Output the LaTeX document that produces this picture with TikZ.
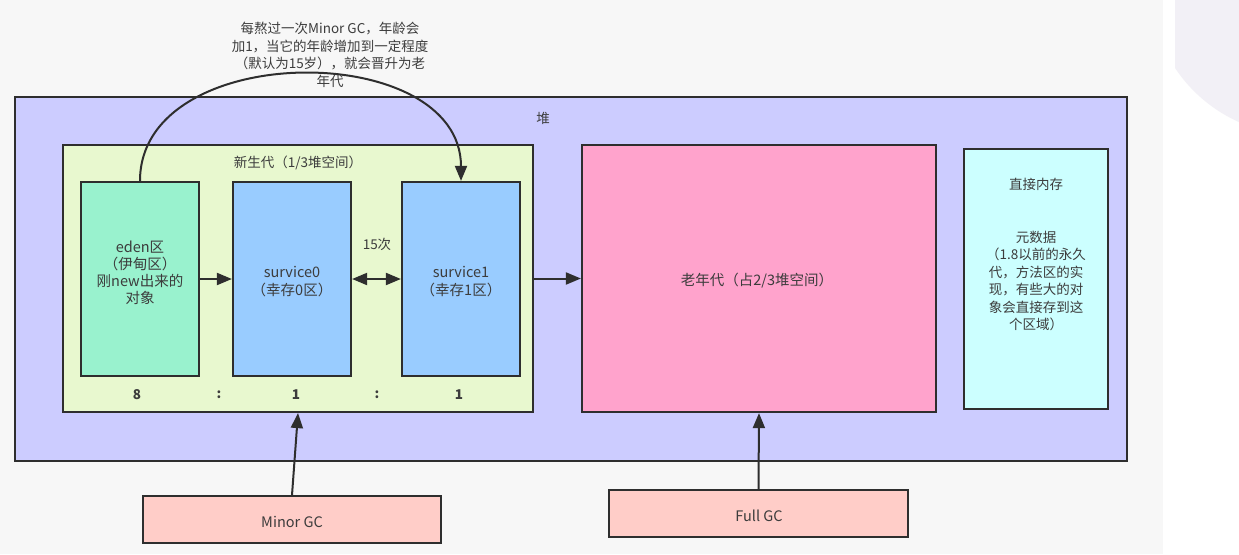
\documentclass[tikz,border=0pt]{standalone}
\usepackage{fontspec}
\setmainfont{Noto Sans CJK SC}
\usetikzlibrary{arrows.meta}
\definecolor{bgc}{HTML}{F7F7F7}
\definecolor{heapc}{HTML}{CCCCFF}
\definecolor{newc}{HTML}{E8F8CF}
\definecolor{edenc}{HTML}{99F2CE}
\definecolor{survc}{HTML}{99CCFF}
\definecolor{oldc}{HTML}{FFA3CC}
\definecolor{dirc}{HTML}{CCFFFF}
\definecolor{gcc}{HTML}{FFCDC8}
\definecolor{txtc}{HTML}{3C3C3C}
\definecolor{linec}{HTML}{2E2E2E}
\definecolor{circc}{HTML}{F2F0F6}
\tikzset{
  box/.style={draw=linec, line width=2.2pt, inner sep=0pt, text=txtc, align=center},
  lbl/.style={text=txtc, inner sep=0pt, align=center, font=\fontsize{13.5}{17.5}\selectfont},
  arr/.style={draw=linec, line width=2pt, -{Triangle[length=15pt,width=12pt]}},
  darr/.style={draw=linec, line width=2pt, {Triangle[length=15pt,width=12pt]}-{Triangle[length=15pt,width=12pt]}},
}
\begin{document}
\begin{tikzpicture}[x=1pt,y=-1pt]
\useasboundingbox (0,0) rectangle (1239,554);
\fill[bgc] (0,0) rectangle (1239,554);
\fill[white] (1163,0) rectangle (1239,554);
\begin{scope}
\clip (1175,0) rectangle (1239,554);
\fill[circc] (1300,-15) circle (150);
\end{scope}

\node[box, fill=heapc, minimum width=1112pt, minimum height=364pt, line width=1.8pt] (heap) at (571,279) {};
\node[lbl] (heaplbl) at (543,118) {堆};

\node[box, fill=newc, minimum width=470pt, minimum height=267pt] (newgen) at (298,278.5) {};
\node[lbl] (newlbl) at (298,163) {新生代（1/3堆空间）};

\node[box, fill=edenc, minimum width=118pt, minimum height=194pt] (eden) at (140,279) {};
\node[lbl, font=\fontsize{14.5}{17}\selectfont] (edenlbl) at (140,273) {eden区\\（伊甸区）\\刚new出来的\\对象};

\node[box, fill=survc, minimum width=118pt, minimum height=194pt] (s0) at (292,279) {};
\node[lbl, font=\fontsize{14.5}{18}\selectfont] (s0lbl) at (292,282) {survice0\\（幸存0区）};

\node[box, fill=survc, minimum width=118pt, minimum height=194pt] (s1) at (461,279) {};
\node[lbl, font=\fontsize{14.5}{18}\selectfont] (s1lbl) at (461,282) {survice1\\（幸存1区）};

\node[lbl] (times) at (377,244) {15次};

\node[lbl, font=\bfseries\fontsize{13.5}{17}\selectfont] (r1) at (137,395) {8};
\node[lbl, font=\bfseries\fontsize{13.5}{17}\selectfont] (c1) at (219,395) {:};
\node[lbl, font=\bfseries\fontsize{13.5}{17}\selectfont] (r2) at (296,395) {1};
\node[lbl, font=\bfseries\fontsize{13.5}{17}\selectfont] (c2) at (377,395) {:};
\node[lbl, font=\bfseries\fontsize{13.5}{17}\selectfont] (r3) at (459,395) {1};

\node[box, fill=oldc, minimum width=354pt, minimum height=267pt] (old) at (759,278.5) {};
\node[lbl, font=\fontsize{14.5}{17}\selectfont] (oldlbl) at (757,281) {老年代（占2/3堆空间）};

\node[box, fill=dirc, minimum width=144pt, minimum height=260pt] (direct) at (1036,279) {};
\node[lbl] (dirtitle) at (1036,184) {直接内存};
\node[lbl] (dirlbl) at (1036,281) {元数据\\（1.8以前的永久\\代，方法区的实\\现，有些大的对\\象会直接存到这\\个区域）};

\node[box, fill=gcc, minimum width=298pt, minimum height=47pt, line width=1.8pt] (minor) at (292,519.5) {};
\node[lbl, font=\fontsize{14.5}{17}\selectfont] (minorlbl) at (292,522) {Minor GC};
\node[box, fill=gcc, minimum width=299pt, minimum height=47pt, line width=1.8pt] (full) at (758.5,513.5) {};
\node[lbl, font=\fontsize{14.5}{17}\selectfont] (fulllbl) at (759,516) {Full GC};

\node[lbl] (note) at (330,55) {每熬过一次Minor GC，年龄会\\加1，当它的年龄增加到一定程度\\（默认为15岁），就会晋升为老\\年代};

\draw[arr] (eden.east) -- (s0.west);
\draw[darr] (s0.east) -- (s1.west);
\draw[arr] (newgen.east) -- (old.west);
\draw[arr] (minor.north) -- (newgen.south);
\draw[arr] (full.north) -- (old.south);
\draw[arr] (eden.north) .. controls +(0,-142) and +(0,-142) .. (s1.north);
\end{tikzpicture}
\end{document}
